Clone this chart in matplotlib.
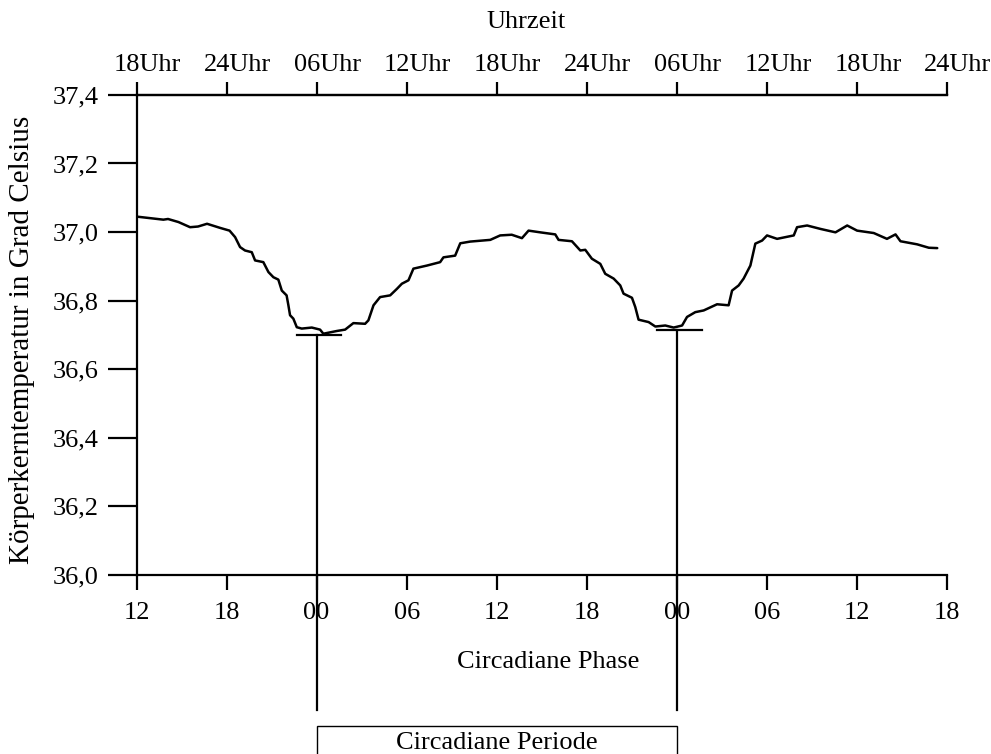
import matplotlib
matplotlib.use("Agg")
import matplotlib.pyplot as plt
import matplotlib.transforms as mtrans
from matplotlib.patches import Rectangle

plt.rcParams['font.family'] = ['Liberation Serif', 'DejaVu Serif']
plt.rcParams['font.size'] = 19

# Data: hours since start (phase 12) and core body temperature
hours = [0.0, 1.79, 2.1, 2.8, 3.57, 4.1, 4.7, 5.57, 6.2, 6.57, 6.9, 7.23, 7.68, 7.9,
         8.45, 8.79, 9.12, 9.45, 9.68, 10.0, 10.12, 10.23, 10.45, 10.68, 11.01, 11.68,
         12.23, 12.45, 13.35, 13.9, 14.45, 15.23, 15.45, 15.79, 16.23, 16.9, 17.35,
         17.68, 18.12, 18.45, 19.35, 20.23, 20.45, 21.23, 21.57, 22.23, 23.57, 24.23,
         25.0, 25.68, 26.12, 26.9, 27.9, 28.12, 29.01, 29.57, 29.9, 30.34, 30.9, 31.23,
         31.79, 32.23, 32.45, 33.01, 33.23, 33.45, 34.12, 34.57, 35.23, 35.79, 36.35,
         36.68, 37.23, 37.79, 38.68, 39.45, 39.68, 40.12, 40.45, 40.9, 41.23, 41.68,
         42.01, 42.68, 43.79, 44.01, 44.68, 45.57, 46.57, 47.35, 48.01, 49.12, 50.0,
         50.57, 50.9, 52.01, 52.79, 53.35]
temps = [37.045, 37.036, 37.038, 37.029, 37.014, 37.016, 37.024, 37.012, 37.004, 36.985,
         36.956, 36.946, 36.941, 36.917, 36.912, 36.883, 36.868, 36.861, 36.829, 36.815,
         36.786, 36.757, 36.747, 36.722, 36.718, 36.721, 36.715, 36.703, 36.711, 36.715,
         36.734, 36.732, 36.742, 36.786, 36.81, 36.815, 36.834, 36.849, 36.859, 36.893,
         36.902, 36.912, 36.926, 36.931, 36.967, 36.972, 36.977, 36.99, 36.992, 36.982,
         37.004, 36.999, 36.993, 36.977, 36.973, 36.946, 36.948, 36.922, 36.907, 36.878,
         36.864, 36.844, 36.82, 36.808, 36.781, 36.744, 36.737, 36.724, 36.727, 36.721,
         36.727, 36.752, 36.766, 36.771, 36.789, 36.786, 36.829, 36.844, 36.864, 36.902,
         36.966, 36.975, 36.99, 36.98, 36.99, 37.014, 37.019, 37.009, 36.999, 37.019,
         37.004, 36.997, 36.98, 36.993, 36.973, 36.964, 36.954, 36.953]

phase_ticks = [0, 6, 12, 18, 24, 30, 36, 42, 48, 54]
phase_labels = ['12', '18', '00', '06', '12', '18', '00', '06', '12', '18']
clock_labels = ['18Uhr', '24Uhr', '06Uhr', '12Uhr', '18Uhr', '24Uhr', '06Uhr', '12Uhr', '18Uhr', '24Uhr']
y_ticks = [36.0, 36.2, 36.4, 36.6, 36.8, 37.0, 37.2, 37.4]
y_labels = ['36,0', '36,2', '36,4', '36,6', '36,8', '37,0', '37,2', '37,4']

# Minimum markers (phase 00)
min_hours = [12, 36]
min_temps = [36.698, 36.713]
min_half_left = [1.3, 1.3]
min_half_right = [1.6, 1.7]

W, H = 991, 754
fig = plt.figure(figsize=(W / 100, H / 100), dpi=100)
ax = fig.add_axes([136.5 / W, (H - 574.5) / H, (947 - 136.5) / W, (574.5 - 95) / H])

lw = 1.6
ax.plot(hours, temps, color='black', lw=1.8, solid_joinstyle='round', solid_capstyle='round')
ax.set_xlim(0, 54)
ax.set_ylim(36.0, 37.4)

for s in ['left', 'bottom', 'top']:
    ax.spines[s].set_linewidth(lw)
ax.spines['right'].set_visible(False)

ax.set_xticks(phase_ticks)
ax.set_xticklabels(phase_labels)
ax.set_yticks(y_ticks)
ax.set_yticklabels(y_labels)
ax.tick_params(axis='x', direction='out', length=11, width=lw, pad=9)
ax.tick_params(axis='y', direction='out', length=21, width=lw, pad=6)

ax2 = ax.twiny()
ax2.set_xlim(0, 54)
ax2.set_xticks(phase_ticks)
ax2.set_xticklabels(clock_labels)
ax2.tick_params(axis='x', direction='out', length=9.5, width=lw, pad=4)
for s in ['left', 'bottom', 'right']:
    ax2.spines[s].set_visible(False)
ax2.spines['top'].set_linewidth(lw)
offset = mtrans.ScaledTranslation(11 / 100, 0, fig.dpi_scale_trans)
for lab in ax2.get_xticklabels():
    lab.set_transform(lab.get_transform() + offset)

# Minimum markers and circadian period
for h, t, dl, dr in zip(min_hours, min_temps, min_half_left, min_half_right):
    ax.plot([h - dl, h + dr], [t, t], color='black', lw=lw, clip_on=False)
    ax.plot([h, h], [t, 35.605], color='black', lw=lw, clip_on=False)

ax.add_patch(Rectangle((min_hours[0], 35.2), min_hours[1] - min_hours[0], 35.558 - 35.2,
                       fill=False, edgecolor='black', lw=1.0, clip_on=False))
fig.text(497 / W, 1 - 743 / H, 'Circadiane Periode', ha='center', va='center')

fig.text(548 / W, 1 - 662 / H, 'Circadiane Phase', ha='center', va='center')
fig.text(526 / W, 1 - 22 / H, 'Uhrzeit', ha='center', va='center')
fig.text(22 / W, 1 - 340 / H, 'Körperkerntemperatur in Grad Celsius', ha='center', va='center',
         rotation=90, fontsize=21)

fig.savefig('out.png', dpi=100)
